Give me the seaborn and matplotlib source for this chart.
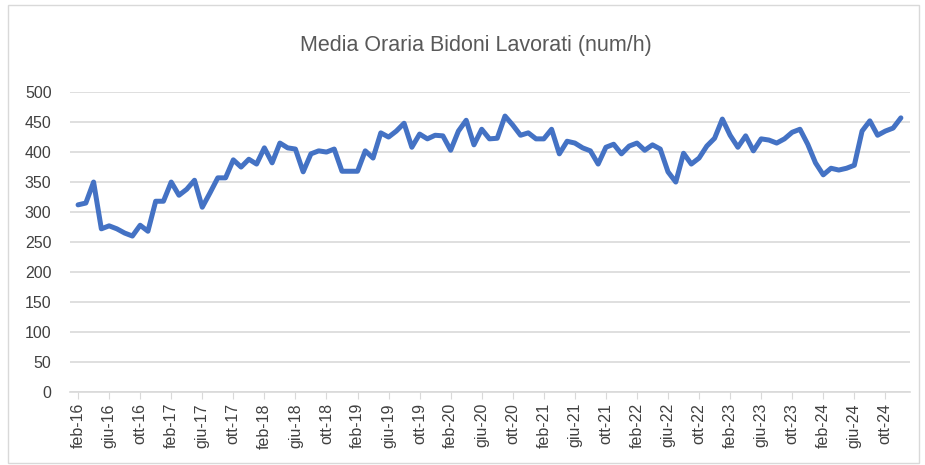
import pandas as pd
import numpy as np
import matplotlib.pyplot as plt
import seaborn as sns
from matplotlib.patches import Rectangle

# Monthly average, feb-2016 .. dic-2024
mesi = ['gen', 'feb', 'mar', 'apr', 'mag', 'giu', 'lug', 'ago', 'set', 'ott', 'nov', 'dic']
valori = [312, 315, 350, 272, 277, 272, 265, 260, 278, 268,
          318, 318, 350, 328, 338, 353, 308, 332, 357, 357,
          387, 375, 388, 380, 407, 382, 415, 407, 405, 367,
          397, 402, 400, 405, 368, 368, 368, 402, 390, 432,
          425, 435, 448, 408, 430, 422, 428, 427, 403, 435,
          453, 412, 438, 422, 423, 460, 445, 428, 432, 422,
          422, 438, 397, 418, 415, 407, 402, 380, 408, 413,
          397, 410, 415, 403, 412, 405, 367, 350, 398, 380,
          390, 410, 423, 455, 428, 408, 427, 402, 422, 420,
          415, 422, 433, 438, 413, 382, 362, 373, 370, 373,
          378, 435, 452, 428, 435, 440, 457]

date = pd.date_range('2016-02-01', periods=len(valori), freq='MS')
df = pd.DataFrame({'idx': np.arange(len(valori)), 'valore': valori})
etichette = [f"{mesi[d.month - 1]}-{d.strftime('%y')}" for d in date]

sns.set_style('white')
plt.rcParams['font.family'] = ['Liberation Sans', 'DejaVu Sans']

fig = plt.figure(figsize=(9.25, 4.65), dpi=100)
ax = fig.add_axes([0.076, 0.157, 0.908, 0.645])

sns.lineplot(data=df, x='idx', y='valore', ax=ax, color='#4472C4', linewidth=3.6)

ax.set_ylim(0, 500)
ax.set_yticks(range(0, 501, 50))
ax.set_xlim(-1.0, 107.2)
pos = list(range(0, len(valori), 4))
ax.set_xticks(pos)
ax.set_xticklabels([etichette[i] for i in pos], rotation=90)
ax.grid(axis='y', color='#d9d9d9', linewidth=1.2)
ax.set_axisbelow(True)
for s in ['top', 'right', 'left']:
    ax.spines[s].set_visible(False)
ax.spines['bottom'].set_color('#d9d9d9')
ax.spines['bottom'].set_linewidth(1.2)
ax.tick_params(axis='x', bottom=True, length=5, color='#d9d9d9', labelsize=11.5, labelcolor='#404040', pad=3)
ax.tick_params(axis='y', left=False, labelsize=11.5, labelcolor='#404040', pad=10)
ax.set_xlabel('')
ax.set_ylabel('')

fig.text(0.515, 0.903, 'Media Oraria Bidoni Lavorati (num/h)', ha='center', va='center',
         fontsize=15.5, color='#595959')
fig.patches.append(Rectangle((0.009, 0.005), 0.985, 0.985, transform=fig.transFigure,
                             fill=False, edgecolor='#d9d9d9', linewidth=1))

fig.savefig('out.png', dpi=100)
